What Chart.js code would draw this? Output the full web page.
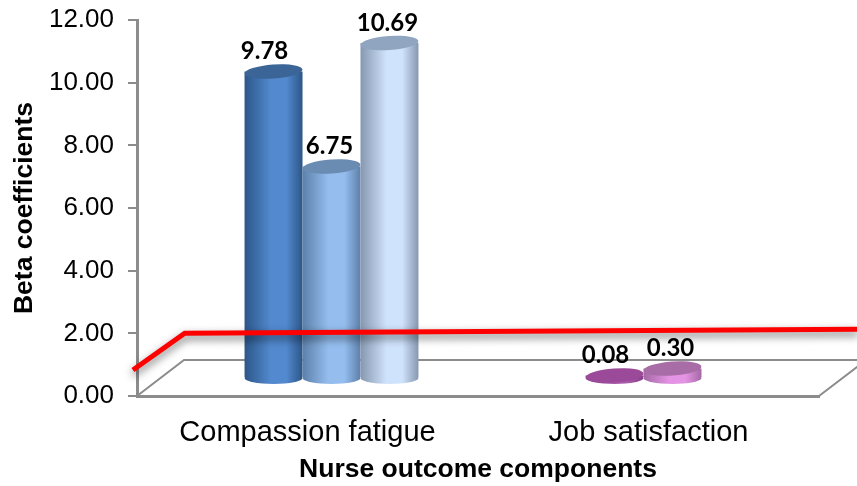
<!DOCTYPE html>
<html>
<head>
<meta charset="utf-8">
<style>
html, body { margin: 0; padding: 0; background: #fff; }
canvas { display: block; }
</style>
<script src="https://cdn.jsdelivr.net/npm/chart.js@4"></script>
</head>
<body>
<canvas id="betaChart" width="857" height="486"></canvas>
<script>
const categories = ['Compassion fatigue', 'Job satisfaction'];
// x axis is linear 0..2, each category sits in the middle of its unit
const categoryX = [0.5, 1.5];
const seriesA = [9.78, 0.08];
const seriesB = [6.75, 0.30];
const seriesC = [10.69, null];
const redLineX = [-0.012, 0.14, 2.116];
const redLineY = [0.83, 2.0, 2.13];

// 3d look of the original: floor depth and how far the cylinders stand back
const depthX = 47, depthY = 36;
const barShiftX = 24, barShiftY = 18;
const gray = '#8c8c8c';

// side colors and top color, per dataset then per category
const looks = [
  [{ edge: '#2c5688', mid: '#5289cf', top: '#3b6596' }, { edge: '#8a3f8a', mid: '#a85aa8', top: '#9a4a98' }],
  [{ edge: '#5c80aa', mid: '#95beef', top: '#6a8bb2' }, { edge: '#a468a4', mid: '#e494e4', top: '#a86ca6' }],
  [{ edge: '#8698b0', mid: '#d0e3fc', top: '#90a6c0' }, { edge: '#a468a4', mid: '#e494e4', top: '#a86ca6' }]
];
const labelNudge = [-9, -2, -2];

function sideGradient(ctx, left, right, look) {
  const g = ctx.createLinearGradient(left, 0, right, 0);
  g.addColorStop(0, look.edge);
  g.addColorStop(0.45, look.mid);
  g.addColorStop(0.72, look.mid);
  g.addColorStop(1, look.edge);
  return g;
}

function drawCylinder(chart, bar, look) {
  const ctx = chart.ctx;
  const base = chart.scales.y.getPixelForValue(0);
  const p = bar.getProps(['x', 'y', 'width']);
  const rx = p.width / 2;
  const side = sideGradient(ctx, p.x - rx, p.x + rx, look);
  bar.options = Object.assign({}, bar.options, { backgroundColor: side });
  bar.draw(ctx);
  ctx.fillStyle = side;
  ctx.beginPath();
  ctx.ellipse(p.x, base, rx, 6, 0, 0, Math.PI * 2);
  ctx.fill();
  ctx.fillStyle = look.top;
  ctx.beginPath();
  ctx.ellipse(p.x, p.y, rx, 7, -0.07, 0, Math.PI * 2);
  ctx.fill();
}

const cylinders = {
  id: 'cylinders',
  beforeDatasetsDraw(chart) {
    const { ctx, chartArea: a } = chart;
    // floor lines
    ctx.save();
    ctx.strokeStyle = gray;
    ctx.lineWidth = 2;
    ctx.beginPath();
    ctx.moveTo(a.left, a.bottom);
    ctx.lineTo(a.left + depthX, a.bottom - depthY);
    ctx.lineTo(chart.width, a.bottom - depthY);
    ctx.moveTo(a.right, a.bottom);
    ctx.lineTo(a.right + depthX, a.bottom - depthY);
    ctx.stroke();
    ctx.restore();

    // cylinders left to right so the right one overlaps, chart.js would go the other way
    ctx.save();
    ctx.translate(barShiftX, -barShiftY);
    chart.data.datasets.forEach((ds, d) => {
      if (ds.type !== 'bar') return;
      chart.getDatasetMeta(d).data.forEach((bar, i) => {
        if (ds.data[i].y !== null) drawCylinder(chart, bar, looks[d][i]);
      });
    });
    ctx.restore();
  },
  beforeDatasetDraw(chart, args) {
    if (args.meta.type === 'bar') return false;
    const ctx = chart.ctx;
    ctx.save();
    ctx.shadowColor = 'rgba(0,0,0,0.55)';
    ctx.shadowBlur = 8;
    ctx.shadowOffsetY = 4;
  },
  afterDatasetDraw(chart) {
    chart.ctx.restore();
  },
  // value labels on top
  afterDraw(chart) {
    const ctx = chart.ctx;
    ctx.save();
    ctx.font = 'bold 24px Lato';
    ctx.fillStyle = '#000';
    ctx.textAlign = 'center';
    ctx.textBaseline = 'middle';
    chart.data.datasets.forEach((ds, d) => {
      if (ds.type !== 'bar') return;
      chart.getDatasetMeta(d).data.forEach((bar, i) => {
        if (ds.data[i].y === null) return;
        const p = bar.getProps(['x', 'y']);
        ctx.fillText(ds.data[i].y.toFixed(2), p.x + barShiftX + labelNudge[d], p.y - barShiftY - 20);
      });
    });
    ctx.restore();
  }
};

function barData(values) {
  return values.map((v, i) => ({ x: categoryX[i], y: v }));
}

const barDefaults = { categoryPercentage: 0.51, barPercentage: 1, borderWidth: 0 };

new Chart(document.getElementById('betaChart'), {
  data: {
    datasets: [
      Object.assign({ type: 'bar', data: barData(seriesA), backgroundColor: '#5289cf' }, barDefaults),
      Object.assign({ type: 'bar', data: barData(seriesB), backgroundColor: '#95beef' }, barDefaults),
      Object.assign({ type: 'bar', data: barData(seriesC), backgroundColor: '#d0e3fc' }, barDefaults),
      {
        type: 'line',
        data: redLineX.map((x, i) => ({ x: x, y: redLineY[i] })),
        borderColor: '#ff0000',
        borderWidth: 5,
        pointRadius: 0,
        tension: 0,
        clip: false,
        order: -1
      }
    ]
  },
  options: {
    responsive: false,
    animation: false,
    layout: { padding: { top: 20, right: 38, left: 9, bottom: 0 } },
    plugins: { legend: { display: false }, tooltip: { enabled: false }, title: { display: false } },
    scales: {
      x: {
        type: 'linear',
        min: 0,
        max: 2,
        offset: false,
        grid: { display: false },
        border: { color: gray, width: 3 },
        afterBuildTicks(scale) { scale.ticks = categoryX.map(v => ({ value: v })); },
        ticks: {
          color: '#000',
          font: { family: 'Liberation Sans', size: 29 },
          padding: 12,
          maxRotation: 0,
          autoSkip: false,
          callback: (v, i) => categories[i]
        },
        title: {
          display: true,
          text: 'Nurse outcome components',
          color: '#000',
          font: { family: 'Liberation Sans', size: 26.5, weight: 'bold' },
          padding: { top: 0, bottom: 0 }
        },
        afterFit(scale) { scale.height = 90; }
      },
      y: {
        min: 0,
        max: 12,
        grid: { drawOnChartArea: false, color: gray, lineWidth: 2, tickLength: 9 },
        border: { color: gray, width: 3 },
        ticks: {
          stepSize: 2,
          color: '#000',
          font: { family: 'Liberation Sans', size: 26 },
          padding: 14,
          callback: v => v.toFixed(2)
        },
        title: {
          display: true,
          text: 'Beta coefficients',
          color: '#000',
          font: { family: 'Liberation Sans', size: 26.5, weight: 'bold' },
          padding: { top: 0, bottom: 0 }
        },
        afterFit(scale) {
          scale.width = 128;
          scale.paddingTop = 0;
          scale.paddingBottom = 0;
        }
      }
    }
  },
  plugins: [cylinders]
});
</script>
</body>
</html>
